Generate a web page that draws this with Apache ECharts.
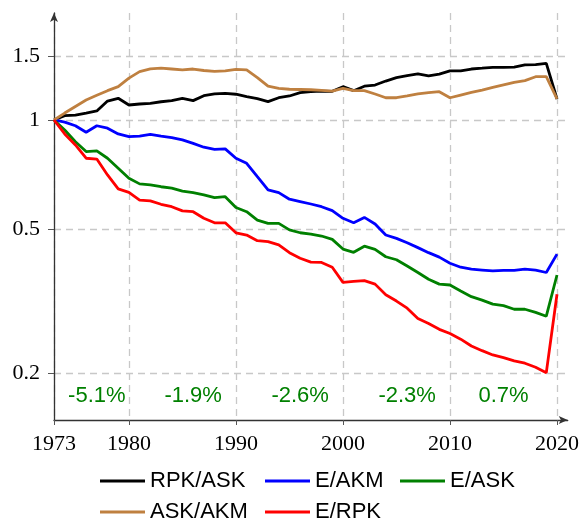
<!DOCTYPE html>
<html>
<head>
<meta charset="utf-8">
<title>Ratios 1973-2020</title>
<script type="text/javascript" src="https://cdn.jsdelivr.net/npm/echarts@6/dist/echarts.min.js"></script>
<style>
html, body { margin: 0; padding: 0; background: #fff; }
#chart { width: 582px; height: 524px; }
</style>
</head>
<body>
<div id="chart"></div>
<script type="text/javascript">
    var years = [1973, 1974, 1975, 1976, 1977, 1978, 1979, 1980, 1981, 1982,
        1983, 1984, 1985, 1986, 1987, 1988, 1989, 1990, 1991, 1992,
        1993, 1994, 1995, 1996, 1997, 1998, 1999, 2000, 2001, 2002,
        2003, 2004, 2005, 2006, 2007, 2008, 2009, 2010, 2011, 2012,
        2013, 2014, 2015, 2016, 2017, 2018, 2019, 2020];

    var rpkAsk = [1.00, 1.028, 1.032, 1.045, 1.059, 1.128, 1.148, 1.10, 1.107, 1.112,
        1.123, 1.131, 1.148, 1.131, 1.167, 1.18, 1.185, 1.178, 1.16, 1.145,
        1.124, 1.152, 1.165, 1.19, 1.197, 1.202, 1.20, 1.236, 1.205, 1.24,
        1.249, 1.281, 1.309, 1.326, 1.34, 1.323, 1.338, 1.366, 1.366, 1.383,
        1.39, 1.398, 1.398, 1.40, 1.419, 1.422, 1.434, 1.143];
    var eAkm = [1.00, 0.986, 0.964, 0.925, 0.964, 0.949, 0.915, 0.899, 0.903, 0.913,
        0.903, 0.894, 0.881, 0.862, 0.841, 0.83, 0.832, 0.784, 0.759, 0.697,
        0.641, 0.630, 0.604, 0.595, 0.586, 0.576, 0.562, 0.535, 0.520, 0.538,
        0.516, 0.481, 0.471, 0.458, 0.444, 0.430, 0.418, 0.402, 0.392, 0.387,
        0.385, 0.383, 0.384, 0.384, 0.387, 0.385, 0.379, 0.426];
    var eAsk = [1.00, 0.938, 0.871, 0.818, 0.822, 0.784, 0.736, 0.690, 0.666, 0.662,
        0.654, 0.648, 0.636, 0.630, 0.621, 0.610, 0.614, 0.573, 0.558, 0.529,
        0.518, 0.518, 0.497, 0.488, 0.484, 0.478, 0.468, 0.440, 0.431, 0.448,
        0.439, 0.419, 0.411, 0.395, 0.379, 0.363, 0.352, 0.350, 0.337, 0.325,
        0.318, 0.310, 0.307, 0.300, 0.300, 0.294, 0.287, 0.373];
    var askAkm = [1.00, 1.045, 1.09, 1.135, 1.17, 1.205, 1.236, 1.305, 1.36, 1.385,
        1.39, 1.383, 1.375, 1.383, 1.37, 1.362, 1.366, 1.38, 1.375, 1.31,
        1.24, 1.223, 1.216, 1.214, 1.212, 1.208, 1.202, 1.223, 1.205, 1.205,
        1.18, 1.152, 1.152, 1.165, 1.18, 1.19, 1.197, 1.152, 1.172, 1.192,
        1.21, 1.23, 1.25, 1.27, 1.285, 1.317, 1.317, 1.143];
    var eRpk = [1.00, 0.915, 0.853, 0.784, 0.780, 0.705, 0.645, 0.631, 0.601, 0.598,
        0.585, 0.576, 0.561, 0.558, 0.535, 0.520, 0.520, 0.488, 0.481, 0.464,
        0.461, 0.452, 0.430, 0.415, 0.405, 0.404, 0.392, 0.356, 0.358, 0.360,
        0.352, 0.329, 0.316, 0.302, 0.283, 0.274, 0.264, 0.257, 0.248, 0.2375,
        0.2305, 0.2243, 0.2205, 0.216, 0.2128, 0.2075, 0.2004, 0.330];

    // axis ticks
    var xLabelYears = [1973, 1980, 1990, 2000, 2010, 2020];
    var xTickYears = [1973, 1980, 1990, 2000, 2010, 2020];
    var yTicks = [0.2, 0.5, 1, 1.5];

    // green growth-rate notes along the bottom
    var noteYears = [1977, 1986, 1996, 2006, 2015];
    var noteLevel = [0.173, 0.173, 0.173, 0.173, 0.173];
    var noteTexts = ['-5.1%', '-1.9%', '-2.6%', '-2.3%', '0.7%'];

    var seriesDefs = [
        {name: 'RPK/ASK', values: rpkAsk, color: '#000000'},
        {name: 'E/AKM', values: eAkm, color: '#0000ff'},
        {name: 'E/ASK', values: eAsk, color: '#008000'},
        {name: 'ASK/AKM', values: askAkm, color: '#bf8040'},
        {name: 'E/RPK', values: eRpk, color: '#ff0000'}
    ];

    var series = seriesDefs.map(function (s) {
        return {
            name: s.name,
            type: 'line',
            showSymbol: false,
            symbol: 'none',
            color: s.color,
            lineStyle: {color: s.color, width: 2.8},
            data: years.map(function (y, i) { return [y, s.values[i]]; })
        };
    });

    series.push({
        name: 'notes',
        type: 'scatter',
        silent: true,
        symbolSize: 0,
        itemStyle: {color: '#008000', opacity: 1},
        data: noteYears.map(function (y, i) { return {value: [y, noteLevel[i]], name: noteTexts[i]}; }),
        label: {
            show: true,
            position: 'inside',
            formatter: function (p) { return p.name; },
            color: '#008000',
            opacity: 1,
            textBorderWidth: 0,
            fontFamily: 'Liberation Sans',
            fontSize: 22
        }
    });

    var gridStyle = {color: '#c8c8c8', type: [7, 5], width: 1.3};
    var legendText = {fontFamily: 'Liberation Sans', fontSize: 22, color: '#000'};

    function legendColumn(names, left) {
        return {
            data: names,
            orient: 'vertical',
            left: left, top: 470,
            padding: 0,
            icon: 'rect', itemWidth: 45, itemHeight: 3, itemGap: 9,
            textStyle: legendText
        };
    }

    var option = {
        animation: false,
        backgroundColor: '#fff',
        grid: {left: 54, right: 13, top: 13, bottom: 104},
        xAxis: {
            type: 'value',
            min: 1973,
            max: 2021,
            axisLine: {lineStyle: {color: '#333', width: 1.3}, symbol: ['none', 'arrow'], symbolSize: [6, 9]},
            axisTick: {show: true, length: 5, customValues: xTickYears, lineStyle: {color: '#555'}},
            axisLabel: {
                customValues: xLabelYears,
                margin: 13,
                color: '#000',
                fontFamily: 'Liberation Serif',
                fontSize: 22,
                formatter: function (v) { return String(v); }
            },
            splitLine: {show: true, lineStyle: gridStyle}
        },
        yAxis: {
            type: 'log',
            logBase: 10,
            min: 0.1483,
            max: 1.975,
            axisLine: {show: true, lineStyle: {color: '#333', width: 1.3}, symbol: ['none', 'arrow'], symbolSize: [6, 9]},
            axisTick: {show: true, length: 6, customValues: yTicks, lineStyle: {color: '#555'}},
            axisLabel: {
                customValues: yTicks,
                margin: 14,
                color: '#000',
                fontFamily: 'Liberation Serif',
                fontSize: 22,
                formatter: function (v) { return String(v); }
            },
            splitLine: {show: true, lineStyle: gridStyle}
        },
        legend: [
            legendColumn(['RPK/ASK', 'ASK/AKM'], 100),
            legendColumn(['E/AKM', 'E/RPK'], 265),
            legendColumn(['E/ASK'], 400)
        ],
        series: series
    };

    var chart = echarts.init(document.getElementById('chart'));
    chart.setOption(option);
</script>
</body>
</html>
